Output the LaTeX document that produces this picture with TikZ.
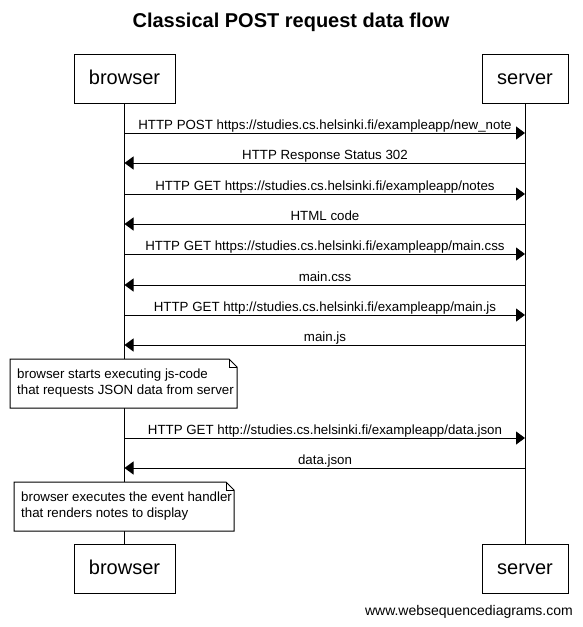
\documentclass[tikz,border=0pt]{standalone}
\usepackage{fontspec}
\setmainfont{Liberation Sans}
\usetikzlibrary{arrows.meta}
\begin{document}
\begin{tikzpicture}[x=1pt,y=-1pt,
  part/.style={draw, line width=1pt, minimum height=49pt, font=\fontsize{20}{24}\selectfont, inner sep=0pt, text height=15pt, text depth=4pt},
  msg/.style={line width=1pt, -{Triangle[length=9pt,width=13pt]}},
  lbl/.style={font=\fontsize{13.3}{15}\selectfont, anchor=base, inner sep=0pt},
  life/.style={line width=1pt},
  notetext/.style={anchor=west, inner sep=0pt, align=left, font=\fontsize{13.3}{16}\selectfont},
  noteline/.style={line width=1pt, fill=white}]
\useasboundingbox (0,0) rectangle (582,627);
\node[font=\bfseries\fontsize{20}{24}\selectfont] (title) at (291,22) {Classical POST request data flow};
\node[part, minimum width=101pt] (bt) at (124.5,78.5) {browser};
\node[part, minimum width=86pt] (st) at (525,78.5) {server};
\node[part, minimum width=101pt] (bb) at (124.5,569) {browser};
\node[part, minimum width=86pt] (sb) at (525,569) {server};
\draw[life] (bt) -- (bb);
\draw[life] (st) -- (sb);
% messages
\foreach \i/\y in {1/133,2/163,3/194,4/224,5/254,6/285,7/315,8/345,9/438,10/468}{
  \coordinate (b\i) at (124.5,\y);
  \coordinate (s\i) at (525,\y);
}
\draw[msg] (b1) -- (s1);
\draw[msg] (s2) -- (b2);
\draw[msg] (b3) -- (s3);
\draw[msg] (s4) -- (b4);
\draw[msg] (b5) -- (s5);
\draw[msg] (s6) -- (b6);
\draw[msg] (b7) -- (s7);
\draw[msg] (s8) -- (b8);
\draw[msg] (b9) -- (s9);
\draw[msg] (s10) -- (b10);
\node[lbl] (l1) at (325,129) {HTTP POST https://studies.cs.helsinki.fi/exampleapp/new\_note};
\node[lbl] (l2) at (325,159) {HTTP Response Status 302};
\node[lbl] (l3) at (325,190) {HTTP GET https://studies.cs.helsinki.fi/exampleapp/notes};
\node[lbl] (l4) at (325,220) {HTML code};
\node[lbl] (l5) at (325,250) {HTTP GET https://studies.cs.helsinki.fi/exampleapp/main.css};
\node[lbl] (l6) at (325,281) {main.css};
\node[lbl] (l7) at (325,311) {HTTP GET http://studies.cs.helsinki.fi/exampleapp/main.js};
\node[lbl] (l8) at (325,341) {main.js};
\node[lbl] (l9) at (325,434) {HTTP GET http://studies.cs.helsinki.fi/exampleapp/data.json};
\node[lbl] (l10) at (325,464) {data.json};
% note 1
\coordinate (n1a) at (10,359);
\coordinate (n1b) at (229,359);
\coordinate (n1c) at (237,367);
\coordinate (n1d) at (237,408);
\coordinate (n1e) at (10,408);
\coordinate (n1f) at (229,367);
\draw[noteline] (n1a) -- (n1b) -- (n1c) -- (n1d) -- (n1e) -- cycle;
\draw[line width=1pt] (n1b) -- (n1f) -- (n1c);
\node[notetext] (n1) at (17,383.5) {browser starts executing js-code\\that requests JSON data from server};
% note 2
\coordinate (n2a) at (14,482);
\coordinate (n2b) at (226,482);
\coordinate (n2c) at (234,490);
\coordinate (n2d) at (234,531);
\coordinate (n2e) at (14,531);
\coordinate (n2f) at (226,490);
\draw[noteline] (n2a) -- (n2b) -- (n2c) -- (n2d) -- (n2e) -- cycle;
\draw[line width=1pt] (n2b) -- (n2f) -- (n2c);
\node[notetext] (n2) at (21,506.5) {browser executes the event handler\\that renders notes to display};
\node[anchor=east, inner sep=0pt, font=\fontsize{14}{16}\selectfont] (wm) at (573,612) {www.websequencediagrams.com};
\end{tikzpicture}
\end{document}
